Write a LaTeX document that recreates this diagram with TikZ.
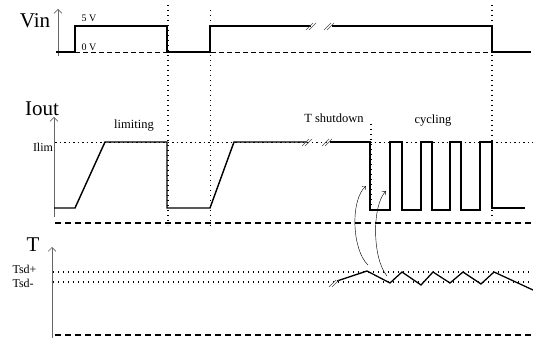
\documentclass[tikz,border=0pt]{standalone}
\usepackage{fontspec}
\setmainfont{Liberation Serif}
\usetikzlibrary{arrows.meta,calc}
\def\breakmark(#1){\draw[line width=0.15mm, color=black!70] ($(#1)+(-4,4)$) -- ++(7,-7) ($(#1)+(-1,4)$) -- ++(7,-7);}

\begin{document}
\begin{tikzpicture}[x=1pt,y=-1pt]
			%%%%% START %%%%%
			\useasboundingbox (0,0) rectangle (533,339);
			
			% axes and their labels
			\draw[line width=0.2mm, color=black!60, -{Straight Barb[length=4pt,width=8pt]}] (58,56) -- (58,9);
			\draw[line width=0.2mm, color=black!60, -{Straight Barb[length=4pt,width=8pt]}] (54,217) -- (54,117);
			\draw[line width=0.2mm, color=black!60, -{Straight Barb[length=4pt,width=8pt]}] (52,338) -- (52,247);
			\node[font=\fontsize{21}{21}\selectfont] (vin) at (35,21) {Vin};
			\node[font=\fontsize{21}{21}\selectfont] (iout) at (42,109) {Iout};
			\node[font=\fontsize{21}{21}\selectfont] (temp) at (33,245) {T};
			
			% Vin
			\draw[line width=0.3mm, dash pattern=on 5pt off 3pt] (75,52) -- (492,52);
			\node[font=\fontsize{10}{10}\selectfont] (fivev) at (89,18) {5 V};
			\node[font=\fontsize{10}{10}\selectfont] (zerov) at (89,47) {0 V};
			\draw[line width=0.5mm] (56,52) -- (75,52) -- (75,26) -- (167,26) -- (167,52) -- (210,52) -- (210,26) -- (311,26);
			\draw[line width=0.5mm] (332,26) -- (492,26) -- (492,52) -- (531,52);
			\breakmark(310,26)
			\breakmark(328,26)
			
			% Iout
			\draw[line width=0.2mm, dash pattern=on 1.5pt off 3pt] (55,142) -- (533,142);
			\node[font=\fontsize{12}{12}\selectfont] (ilim) at (43,147) {Ilim};
			\node[font=\fontsize{12.5}{12.5}\selectfont] (limiting) at (134,126) {limiting};
			\node[font=\fontsize{12.5}{12.5}\selectfont] (tsd) at (334,118) {T shutdown};
			\node[font=\fontsize{12.5}{12.5}\selectfont] (cycling) at (433,121) {cycling};
			\draw[line width=0.5mm] (54,208) -- (75,208) -- (105,142) -- (167,142) -- (167,208) -- (210,208) -- (234,142) -- (307,142);
			\draw[line width=0.5mm] (330,142) -- (370,142) -- (370,210) -- (390,210) -- (390,142) -- (402,142) -- (402,210)
				-- (421,210) -- (421,142) -- (432,142) -- (432,210) -- (450,210) -- (450,142) -- (461,142) -- (461,210)
				-- (480,210) -- (480,142) -- (492,142) -- (492,208) -- (525,208);
			\breakmark(306,142)
			\breakmark(326,142)
			\draw[line width=0.45mm, dash pattern=on 6pt off 4pt] (55,223) -- (533,223);
			
			% guides in time
			\draw[line width=0.5mm, dash pattern=on 1.3pt off 3.7pt] (168,5) -- (168,225);
			\draw[line width=0.35mm, dash pattern=on 1.2pt off 3.8pt] (210,10) -- (210,227);
			\draw[line width=0.5mm, dash pattern=on 1.3pt off 3.7pt] (492,5) -- (492,220);
			\draw[line width=0.5mm, dash pattern=on 1.3pt off 3.7pt] (371,124) -- (371,210);
			
			% T
			\draw[line width=0.45mm, dash pattern=on 1.3pt off 3.7pt] (53,272) -- (533,272);
			\draw[line width=0.45mm, dash pattern=on 1.3pt off 3.7pt] (53,282) -- (533,282);
			\node[font=\fontsize{12}{12}\selectfont, anchor=west] (tsdplus) at (9,269) {Tsd+};
			\node[font=\fontsize{12}{12}\selectfont, anchor=west] (tsdminus) at (9,283) {Tsd-};
			\draw[line width=0.45mm] (337,281) -- (367,271) -- (390,283) -- (402,272) -- (421,285) -- (433,272) -- (450,283)
				-- (463,272) -- (481,284) -- (494,272) -- (533,290);
			\breakmark(333,283)
			\draw[line width=0.45mm, dash pattern=on 6pt off 4pt] (55,335) -- (533,335);
			
			% temperature drives the cycling
			\draw[line width=0.15mm, -{Straight Barb[length=3pt,width=5pt]}] (368,265) .. controls (352,250) and (350,200) .. (366,186);
			\draw[line width=0.15mm, -{Straight Barb[length=3pt,width=5pt]}] (387,276) .. controls (372,258) and (372,205) .. (386,191);
			
			%%%%% END %%%%%
\end{tikzpicture}
\end{document}
